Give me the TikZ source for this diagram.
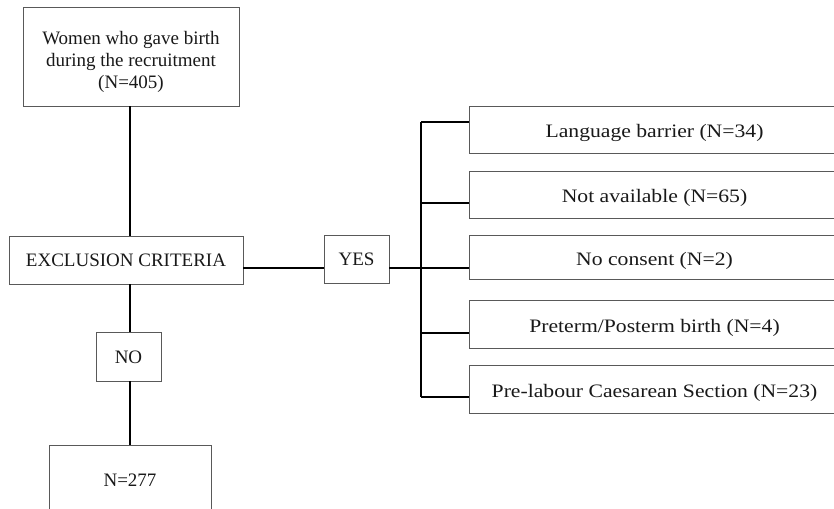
\documentclass[tikz,border=0pt]{standalone}
\usepackage{fontspec}
\setmainfont{Liberation Serif}
\newfontfamily\widefont[FakeStretch=1.14]{Liberation Serif}
\newcommand\lowtext[2]{\raisebox{-#1}[0pt][0pt]{#2}}
\begin{document}
\begin{tikzpicture}[x=1pt,y=1pt,
  boxst/.style={draw=black!65,line width=0.9pt,fill=white,inner sep=0pt,align=center,
    font=\fontsize{19}{22}\selectfont,text=black!90},
  widebox/.style={boxst,minimum width=371pt,font=\widefont\fontsize{19}{22}\selectfont},
  link/.style={draw=black,line width=1.4pt}]
\useasboundingbox (0,0) rectangle (834,-508);
\clip (0,0) rectangle (834,-508);
% left column
\node[boxst,minimum width=216pt,minimum height=99pt] (top) at (131,-56.5)
  {\lowtext{10pt}{\begin{tabular}{@{}c@{}}Women who gave birth\\during the recruitment\\(N=405)\end{tabular}}};
\node[boxst,minimum width=234pt,minimum height=48pt] (excl) at (126,-260) {\lowtext{6.5pt}{EXCLUSION CRITERIA}};
\node[boxst,minimum width=65pt,minimum height=48pt] (yes) at (356.5,-259) {\lowtext{6.5pt}{YES}};
\node[boxst,minimum width=65pt,minimum height=49pt] (no) at (128.5,-356.5) {\lowtext{7pt}{NO}};
\node[boxst,minimum width=162pt,minimum height=70pt] (fin) at (130,-480) {\lowtext{6.5pt}{N=277}};
% right boxes
\node[widebox,minimum height=47pt] (b1) at (654.5,-129.5) {\lowtext{8pt}{Language barrier (N=34)}};
\node[widebox,minimum height=47pt] (b2) at (654.5,-194.5) {\lowtext{8pt}{Not available (N=65)}};
\node[widebox,minimum height=44pt] (b3) at (654.5,-257) {\lowtext{8.5pt}{No consent (N=2)}};
\node[widebox,minimum height=48pt] (b4) at (654.5,-324) {\lowtext{8pt}{Preterm/Posterm birth (N=4)}};
\node[widebox,minimum height=48pt] (b5) at (654.5,-389) {\lowtext{8pt}{Pre-labour Caesarean Section (N=23)}};
% trunk coordinates
\coordinate (t1) at (421,-122);
\coordinate (t2) at (421,-203);
\coordinate (t3) at (421,-268);
\coordinate (t4) at (421,-333);
\coordinate (t5) at (421,-397);
% connectors
\draw[link] (top.south -| 130,0) -- (excl.north -| 130,0);
\draw[link] (excl.south -| 130,0) -- (no.north -| 130,0);
\draw[link] (no.south -| 130,0) -- (fin.north -| 130,0);
\draw[link] (excl.east |- t3) -- (yes.west |- t3);
\draw[link] (yes.east |- t3) -- (t3);
\draw[link] (t1) -- (t5);
\draw[link] (t1) -- (b1.west |- t1);
\draw[link] (t2) -- (b2.west |- t2);
\draw[link] (t3) -- (b3.west |- t3);
\draw[link] (t4) -- (b4.west |- t4);
\draw[link] (t5) -- (b5.west |- t5);
\end{tikzpicture}
\end{document}
